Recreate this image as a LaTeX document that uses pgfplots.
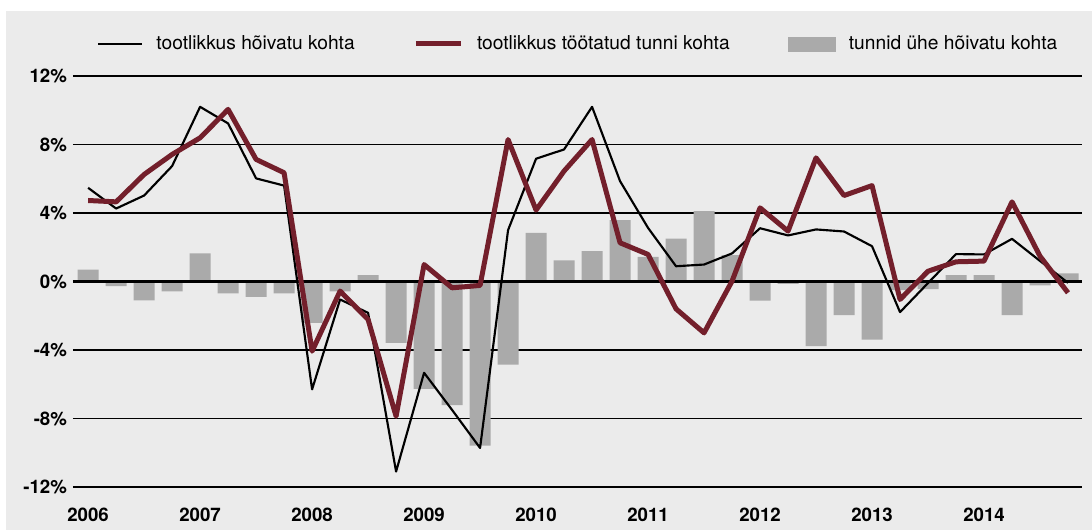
\documentclass[border=0pt]{standalone}
\usepackage{fontspec}
\setmainfont{TeX Gyre Heros}
\usepackage{pgfplots}
\usepackage{pgfplotstable}
\pgfplotsset{compat=1.18}
\definecolor{bgc}{HTML}{EBEBEB}
\definecolor{barc}{HTML}{AAAAAA}
\definecolor{wine}{HTML}{731F2B}

\pgfplotstableread{
q hv tt tu
0 5.47 4.73 0.70
1 4.26 4.65 -0.27
2 5.02 6.25 -1.10
3 6.74 7.42 -0.58
4 10.20 8.39 1.64
5 9.23 10.05 -0.70
6 6.02 7.13 -0.90
7 5.60 6.35 -0.70
8 -6.30 -4.07 -2.42
9 -1.05 -0.56 -0.58
10 -1.83 -2.22 0.37
11 -11.10 -7.87 -3.58
12 -5.33 0.99 -6.27
13 -7.50 -0.37 -7.22
14 -9.72 -0.23 -9.58
15 3.00 8.29 -4.85
16 7.17 4.17 2.84
17 7.71 6.45 1.23
18 10.20 8.29 1.77
19 5.86 2.26 3.58
20 3.13 1.58 1.44
21 0.89 -1.60 2.51
22 0.99 -3.00 4.11
23 1.64 0.02 1.54
24 3.11 4.30 -1.11
25 2.69 2.94 -0.14
26 3.04 7.22 -3.78
27 2.92 5.02 -1.97
28 2.06 5.60 -3.39
29 -1.79 -1.05 -0.50
30 -0.09 0.60 -0.45
31 1.60 1.15 0.37
32 1.58 1.19 0.37
33 2.49 4.65 -1.97
34 1.20 1.48 -0.23
35 -0.08 -0.66 0.47
}\data

\begin{document}
\begin{tikzpicture}[font=\fontsize{14}{16}\selectfont]
\fill[white] (0pt,0pt) rectangle (819pt,397.5pt);
\fill[bgc] (4.5pt,0pt) rectangle (819pt,389.25pt);
\begin{axis}[
  at={(54.75pt,32.25pt)}, anchor=south west,
  scale only axis, width=756.75pt, height=308.25pt,
  xmin=-0.54, xmax=35.5, ymin=-12, ymax=12,
  axis line style={draw=none},
  major tick length=0pt,
  xtick={0,4,...,32},
  xticklabels={2006,2007,2008,2009,2010,2011,2012,2013,2014},
  ytick={-12,-8,-4,0,4,8,12},
  yticklabels={-12\%,-8\%,-4\%,0\%,4\%,8\%,12\%},
  ymajorgrids, grid style={black, line width=1pt},
  xticklabel style={font=\fontsize{14}{16}\selectfont\bfseries, yshift=-12pt},
  yticklabel style={font=\fontsize{14}{16}\selectfont\bfseries, xshift=-1pt},
  legend columns=3,
  legend cell align=left,
  legend style={at={(0.0238,1.078)}, anchor=west, draw=none, fill=none,
    inner sep=0pt, outer sep=0pt, nodes={inner sep=0pt},
    font=\fontsize{14.4}{16}\selectfont,
    column sep=10pt,
    /tikz/every even column/.append style={column sep=44pt}},
]
\addlegendimage{legend image code/.code={\draw[black,line width=1.6pt] (0pt,0pt) -- (33pt,0pt);}}
\addlegendentry{tootlikkus hõivatu kohta}
\addlegendimage{legend image code/.code={\draw[wine,line width=3.75pt] (0pt,0pt) -- (34pt,0pt);}}
\addlegendentry{tootlikkus töötatud tunni kohta}
\addlegendimage{legend image code/.code={\fill[barc] (0pt,-5.25pt) rectangle (35pt,5.25pt);}}
\addlegendentry{tunnid ühe hõivatu kohta}

\addplot[ybar, bar width=15.75pt, bar shift=0pt, fill=barc, draw=none, forget plot] table[x=q,y=tu]{\data};
\addplot[black, line width=2.2pt, forget plot] coordinates {(-0.54,0) (35.5,0)};
\addplot[black, line width=1.6pt, line join=round, forget plot] table[x=q,y=hv]{\data};
\addplot[wine, line width=3.75pt, line join=round, forget plot] table[x=q,y=tt]{\data};
\end{axis}
\end{tikzpicture}
\end{document}
